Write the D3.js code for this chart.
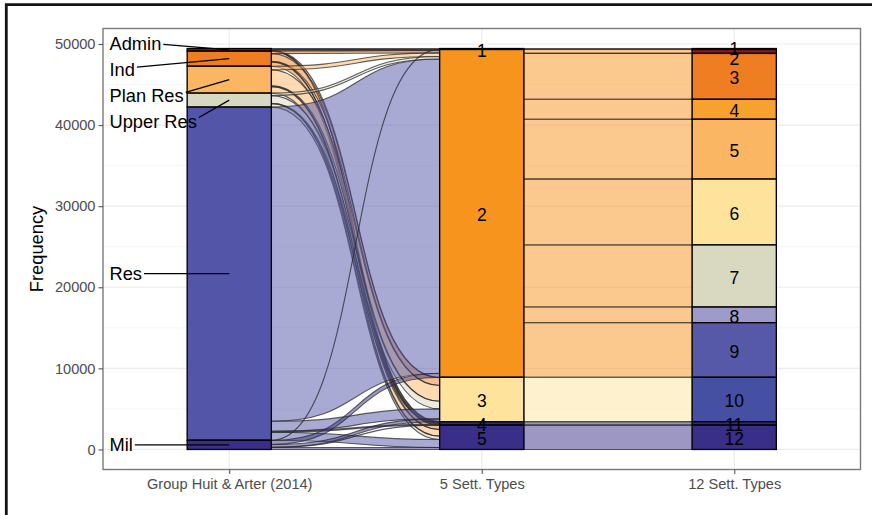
<!DOCTYPE html>
<html>
<head>
<meta charset="utf-8">
<script src="https://cdn.jsdelivr.net/npm/d3@7"></script>
<style>
  html, body { margin: 0; padding: 0; background: #fff; }
  svg { display: block; font-family: "Liberation Sans", Arial, Helvetica, sans-serif; }
</style>
</head>
<body>
<svg id="chart" width="872" height="515"></svg>
<script>
// ---- data -------------------------------------------------------------
const axisNames = ["Group Huit & Arter (2014)", "5 Sett. Types", "12 Sett. Types"];

const huitClasses = ["Admin", "Ind", "Plan Res", "Upper Res", "Res", "Mil"];
const huitColors  = ["#8B1A1A", "#EF7D22", "#FBB664", "#D9D8C1", "#5255A8", "#3A2F88"];

const types5       = ["1", "2", "3", "4", "5"];
const types5Colors = ["#9E1B1B", "#F7941E", "#FEE39C", "#2F2A78", "#3A2F88"];

const types12       = ["1", "2", "3", "4", "5", "6", "7", "8", "9", "10", "11", "12"];
const types12Colors = ["#6E0F12", "#8E1B1B", "#EF7D22", "#F8A12F", "#FBB664", "#FEE39C",
                       "#D9D8C1", "#9E9ACA", "#5659A8", "#4550A2", "#2E2A78", "#3A2F88"];

// rows: Group Huit classes, columns: 5 settlement types
const flowsHuitTo5 = [
  [100,   120,   60,  10,  40],   // Admin
  [  0,   300,  950,  80, 520],   // Ind
  [  0,   450, 1950, 120, 800],   // Plan Res
  [  0,   300,  940,  70, 410],   // Upper Res
  [  0, 38750, 1230, 120, 980],   // Res
  [ 20,   500,  350,  20, 250]    // Mil
];

// rows: 5 settlement types, columns: 12 settlement types
const flows5To12 = [
  [120,   0,    0,    0,    0,    0,    0,    0,    0,    0,   0,    0],
  [  0, 480, 5660, 2460, 7380, 8120, 7660, 1930, 6730,    0,   0,    0],
  [  0,   0,    0,    0,    0,    0,    0,    0,    0, 5480,   0,    0],
  [  0,   0,    0,    0,    0,    0,    0,    0,    0,    0, 420,    0],
  [  0,   0,    0,    0,    0,    0,    0,    0,    0,    0,   0, 3000]
];

const yTicks      = [0, 10000, 20000, 30000, 40000, 50000];
const yMinorTicks = [5000, 15000, 25000, 35000, 45000];
const yTitle = "Frequency";

// ---- layout -----------------------------------------------------------
const panel = { left: 103, right: 860.5, top: 28.5, bottom: 469.5 };
const svg = d3.select("#chart");

const huitTotals = flowsHuitTo5.map(r => d3.sum(r));
const t5Totals   = flows5To12.map(r => d3.sum(r));
const t12Totals  = types12.map((_, j) => d3.sum(flows5To12, r => r[j]));
const N = d3.sum(huitTotals);

const x = d3.scalePoint().domain(axisNames).range([panel.left, panel.right]).padding(0.5);
const bw = x.step() / 3;
const y = d3.scaleLinear().domain([-0.05 * N, 1.05 * N]).range([panel.bottom, panel.top]);

function stackStrata(labels, totals, colors) {
  let top = N;
  return labels.map((lab, i) => {
    const s = { label: lab, value: totals[i], top: top, bottom: top - totals[i], color: colors[i] };
    top -= totals[i];
    return s;
  });
}

const axes = [
  { name: axisNames[0], strata: stackStrata(huitClasses, huitTotals, huitColors) },
  { name: axisNames[1], strata: stackStrata(types5, t5Totals, types5Colors) },
  { name: axisNames[2], strata: stackStrata(types12, t12Totals, types12Colors) }
];

// flows: outgoing lodes ordered by target stratum, incoming lodes by source stratum
function buildFlows(matrix, ia) {
  const src = axes[ia], dst = axes[ia + 1];
  const outCur = src.strata.map(s => s.top);
  const inCur = dst.strata.map(s => s.top);
  const list = [];
  matrix.forEach((row, i) => row.forEach((v, j) => {
    if (v > 0) {
      list.push({ ia, i, j, v, s0: outCur[i], t0: inCur[j], color: src.strata[i].color });
    }
    outCur[i] -= v;
    inCur[j] -= v;
  }));
  return list;
}

const flows = buildFlows(flowsHuitTo5, 0).concat(buildFlows(flows5To12, 1));

function flowPath(f) {
  const x0 = x(axisNames[f.ia]) + bw / 2;
  const x1 = x(axisNames[f.ia + 1]) - bw / 2;
  const k = 0.55 * (x1 - x0);
  const a0 = y(f.s0), b0 = y(f.s0 - f.v), a1 = y(f.t0), b1 = y(f.t0 - f.v);
  const p = d3.path();
  p.moveTo(x0, a0);
  p.bezierCurveTo(x0 + k, a0, x1 - k, a1, x1, a1);
  p.lineTo(x1, b1);
  p.bezierCurveTo(x1 - k, b1, x0 + k, b0, x0, b0);
  p.closePath();
  return p.toString();
}

// push overlapping labels apart, then pull each pushed group back toward its anchors
function spreadLabels(anchors, gap, pull) {
  const pos = [];
  anchors.forEach((a, i) => { pos.push(i === 0 ? a : Math.max(a, pos[i - 1] + gap)); });
  let start = 0;
  for (let i = 1; i <= pos.length; i++) {
    if (i === pos.length || pos[i] > pos[i - 1] + gap + 1e-6 || pos[i] === anchors[i]) {
      const grp = d3.range(start, i);
      if (grp.length > 1) {
        const shift = pull * d3.mean(grp, g => pos[g] - anchors[g]);
        grp.forEach(g => { pos[g] -= shift; });
      }
      start = i;
    }
  }
  return pos;
}

// ---- grid ---------------------------------------------------------------
const grid = svg.append("g");
grid.append("rect")
  .attr("x", panel.left).attr("y", panel.top)
  .attr("width", panel.right - panel.left).attr("height", panel.bottom - panel.top)
  .attr("fill", "#fff");
grid.selectAll("line.minor").data(yMinorTicks).join("line")
  .attr("x1", panel.left).attr("x2", panel.right)
  .attr("y1", d => y(d)).attr("y2", d => y(d))
  .attr("stroke", "#F2F2F2").attr("stroke-width", 0.7);
grid.selectAll("line.major").data(yTicks).join("line")
  .attr("x1", panel.left).attr("x2", panel.right)
  .attr("y1", d => y(d)).attr("y2", d => y(d))
  .attr("stroke", "#EBEBEB").attr("stroke-width", 1.2);
grid.selectAll("line.vmajor").data(axisNames).join("line")
  .attr("x1", d => x(d)).attr("x2", d => x(d))
  .attr("y1", panel.top).attr("y2", panel.bottom)
  .attr("stroke", "#EBEBEB").attr("stroke-width", 1.2);

// ---- flows ----------------------------------------------------------------
svg.append("g").selectAll("path").data(flows).join("path")
  .attr("d", flowPath)
  .attr("fill", d => d.color).attr("fill-opacity", 0.5)
  .attr("stroke", "#2b2b2b").attr("stroke-opacity", 0.75).attr("stroke-width", 1.1);

// ---- strata -----------------------------------------------------------------
const strataG = svg.append("g");
axes.forEach(ax => {
  strataG.selectAll(null).data(ax.strata).join("rect")
    .attr("x", x(ax.name) - bw / 2).attr("width", bw)
    .attr("y", d => y(d.top)).attr("height", d => y(d.bottom) - y(d.top))
    .attr("fill", d => d.color)
    .attr("stroke", "#000").attr("stroke-width", 1.35);
});

// ---- numbered stratum labels ------------------------------------------------
const numSize = 17.5;
[1, 2].forEach(ia => {
  const ax = axes[ia];
  const anchors = ax.strata.map(s => y((s.top + s.bottom) / 2));
  const pos = spreadLabels(anchors, 9.5, 0.4);
  svg.append("g").selectAll("text").data(ax.strata).join("text")
    .attr("x", x(ax.name))
    .attr("y", (d, i) => pos[i] + 0.45 * numSize)
    .attr("text-anchor", "middle")
    .attr("font-size", numSize)
    .attr("fill", "#000")
    .text(d => d.label);
});

// ---- class labels with leader lines ----------------------------------------
const labSize = 18.3;
const labX = panel.left + 6.5;
const ax0 = axes[0];
const anchors0 = ax0.strata.map(s => y((s.top + s.bottom) / 2));
const pos0 = spreadLabels(anchors0, 26.3, 0.4);
const labG = svg.append("g");
ax0.strata.forEach((s, i) => {
  const t = labG.append("text")
    .attr("x", labX).attr("y", pos0[i] + 0.36 * labSize)
    .attr("font-size", labSize).attr("fill", "#000")
    .text(s.label);
  const tEnd = labX + t.node().getComputedTextLength() + 2;
  const sy = pos0[i] + 0.2 * (anchors0[i] - pos0[i]);
  labG.append("line")
    .attr("x1", tEnd).attr("y1", sy)
    .attr("x2", x(ax0.name)).attr("y2", anchors0[i])
    .attr("stroke", "#000").attr("stroke-width", 1.3);
});

// ---- panel border & axes ----------------------------------------------------
svg.append("rect")
  .attr("x", panel.left).attr("y", panel.top)
  .attr("width", panel.right - panel.left).attr("height", panel.bottom - panel.top)
  .attr("fill", "none").attr("stroke", "#7a7a7a").attr("stroke-width", 1.4);

const yAxis = svg.append("g")
  .attr("transform", `translate(${panel.left},0)`)
  .call(d3.axisLeft(y).tickValues(yTicks).tickFormat(d3.format("d")).tickSize(4.5).tickPadding(3));
yAxis.select(".domain").remove();
yAxis.selectAll(".tick line").attr("stroke", "#555").attr("stroke-width", 1.1);
yAxis.selectAll(".tick text")
  .attr("font-family", "Liberation Sans, Arial, sans-serif")
  .attr("font-size", 14.6).attr("fill", "#4D4D4D");

const xAxis = svg.append("g")
  .attr("transform", `translate(0,${panel.bottom})`)
  .call(d3.axisBottom(x).tickSize(4.5).tickPadding(5));
xAxis.select(".domain").remove();
xAxis.selectAll(".tick line").attr("stroke", "#555").attr("stroke-width", 1.1);
xAxis.selectAll(".tick text")
  .attr("font-family", "Liberation Sans, Arial, sans-serif")
  .attr("font-size", 14.6).attr("fill", "#4D4D4D");

svg.append("text")
  .attr("transform", `translate(36.5,${(panel.top + panel.bottom) / 2}) rotate(-90)`)
  .attr("text-anchor", "middle").attr("dy", "0.36em")
  .attr("font-size", 18.3).attr("fill", "#000")
  .text(yTitle);

// ---- outer frame ------------------------------------------------------------
svg.append("path")
  .attr("d", "M6.3,515V4.6H872")
  .attr("fill", "none").attr("stroke", "#141414").attr("stroke-width", 2.8);
</script>
</body>
</html>
